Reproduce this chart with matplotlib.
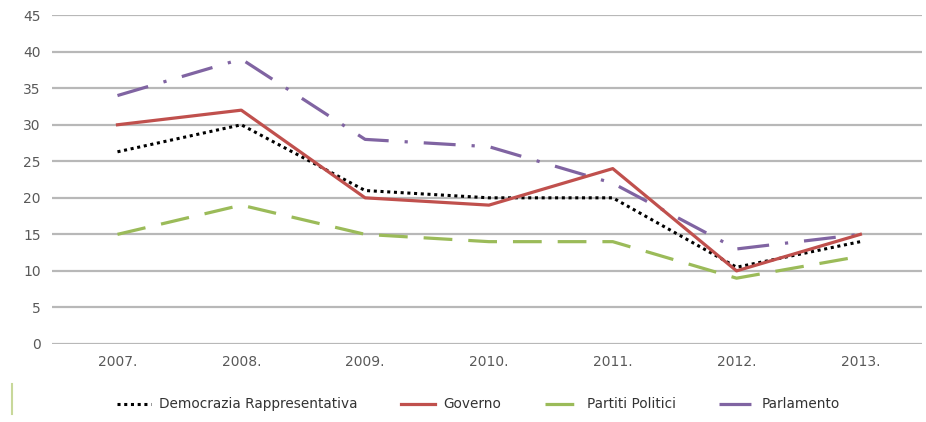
import matplotlib.pyplot as plt
from matplotlib.lines import Line2D

# Dati
anni = ['2007.', '2008.', '2009.', '2010.', '2011.', '2012.', '2013.']
democrazia = [26.3, 30, 21, 20, 20, 10.5, 14]
governo = [30, 32, 20, 19, 24, 10, 15]
partiti = [15, 19, 15, 14, 14, 9, 12]
parlamento = [34, 39, 28, 27, 22, 13, 15]

fig = plt.figure(figsize=(9.26, 4.22), dpi=100)
ax = fig.add_axes([0.056, 0.185, 0.94, 0.779])

x = range(len(anni))
ax.plot(x, democrazia, color='black', lw=2.2, linestyle=(0, (1, 1.2)),
        label='Democrazia Rappresentativa', zorder=3)
ax.plot(x, governo, color='#c0504d', lw=2.3, label='Governo', zorder=4)
ax.plot(x, partiti, color='#9bbb59', lw=2.3, linestyle=(0, (9, 5)),
        label='Partiti Politici', zorder=3)
ax.plot(x, parlamento, color='#8064a2', lw=2.3, linestyle=(0, (10, 5, 1, 5)),
        label='Parlamento', zorder=3)

ax.set_xlim(-0.53, 6.5)
ax.set_ylim(0, 45)
ax.set_yticks(range(0, 46, 5))
ax.set_xticks(list(x))
ax.set_xticklabels(anni)
ax.grid(axis='y', color='#b8b8b8', lw=1.6)
ax.set_axisbelow(True)
for s in ax.spines.values():
    s.set_visible(False)
ax.tick_params(length=0, colors='#595959', labelsize=10, pad=8)

ax.legend(loc='upper center', bbox_to_anchor=(0.49, -0.125), ncol=4, frameon=False,
          fontsize=9.8, handlelength=2.5, handletextpad=0.6, columnspacing=3.2,
          labelcolor='#333333')

# piccola linea verde a sinistra (come nell'originale)
fig.add_artist(Line2D([0.013, 0.013], [0.02, 0.09], color='#c8d89a', lw=1.5))

fig.savefig('out.png', dpi=100)
